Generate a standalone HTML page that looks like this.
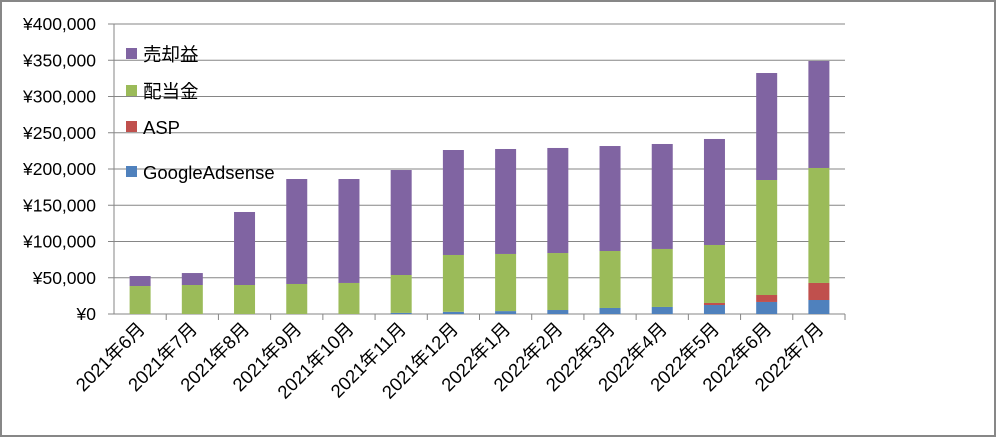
<!DOCTYPE html>
<html><head><meta charset="utf-8"><style>
html,body{margin:0;padding:0;background:#fff}
svg{display:block}
text{font-family:"Liberation Sans","Noto Sans CJK JP",sans-serif;fill:#000}
</style></head><body>
<svg id="c" width="996" height="437">
<rect x="1" y="1" width="994" height="435" fill="#fff" stroke="#878787" stroke-width="2"/>
</svg>
<script>
const categories=["2021年6月","2021年7月","2021年8月","2021年9月","2021年10月","2021年11月","2021年12月","2022年1月","2022年2月","2022年3月","2022年4月","2022年5月","2022年6月","2022年7月"];
const adsense=[0,0,0,0,0,1500,3000,4000,5500,8300,9700,12400,16600,19300];
const asp=[0,0,0,0,0,0,0,0,0,0,0,2800,9600,23500];
const dividend=[38600,40000,40000,41400,42800,52300,78400,78800,78600,78600,80000,80000,158600,158600];
const sale=[13800,16500,100700,144800,143400,144800,144800,144800,144900,144800,144800,146200,147600,147600];
const yTicks=[0,50000,100000,150000,200000,250000,300000,350000,400000];
const seriesNames=["GoogleAdsense","ASP","配当金","売却益"];
const colors=["#4f81bd","#c0504d","#9bbb59","#8064a2"];
const NS="http://www.w3.org/2000/svg",svg=document.getElementById('c');
const X0=114,X1=845,Y0=314,Y1=24,YMAX=400000;
const bw=(X1-X0)/categories.length;
const y=v=>Y0-(v/YMAX)*(Y0-Y1);
const xc=i=>X0+bw*(i+0.5);
function mk(t,a){const e=document.createElementNS(NS,t);for(const k in a)e.setAttribute(k,a[k]);svg.appendChild(e);return e;}
yTicks.forEach(t=>{
 const g=mk('line',{x1:X0-6,x2:X1,y1:y(t),y2:y(t),stroke:'#868686','stroke-width':1});
 
 
 const l=mk('text',{x:X0-18,y:y(t)+6,'text-anchor':'end','font-size':17.5});
 l.textContent='¥'+t.toLocaleString('en-US');
 
 
});
const ax=mk('line',{x1:X0,x2:X0,y1:Y1,y2:Y0,stroke:'#868686'});


const series=[adsense,asp,dividend,sale];
categories.forEach((c,i)=>{
 const tk=mk('line',{x1:X0+bw*(i+1),x2:X0+bw*(i+1),y1:Y0,y2:Y0+6,stroke:'#868686'});
 
 
 let base=0;
 series.forEach((s,k)=>{
  if(s[i]>0){
   const r=mk('rect',{x:xc(i)-10.5,width:21,y:y(base+s[i]),height:y(base)-y(base+s[i]),fill:colors[k]});
   
   
  }
  base+=s[i];
 });
 const tx=xc(i)+6,ty=Y0+16;
 const l=mk('text',{x:tx,y:ty,'text-anchor':'end','font-size':18.5,transform:`rotate(-45 ${tx} ${ty})`});
 l.textContent=c;
 
 
});
const legendY=[54,91,127,172];
[3,2,1,0].forEach((k,j)=>{
 const r=mk('rect',{x:126,y:legendY[j]-6,width:11,height:11,fill:colors[k]});
 
 
 const t=mk('text',{x:143,y:legendY[j]+7,'font-size':18.5});
 t.textContent=seriesNames[k];
 
 
});
</script>
</body></html>
